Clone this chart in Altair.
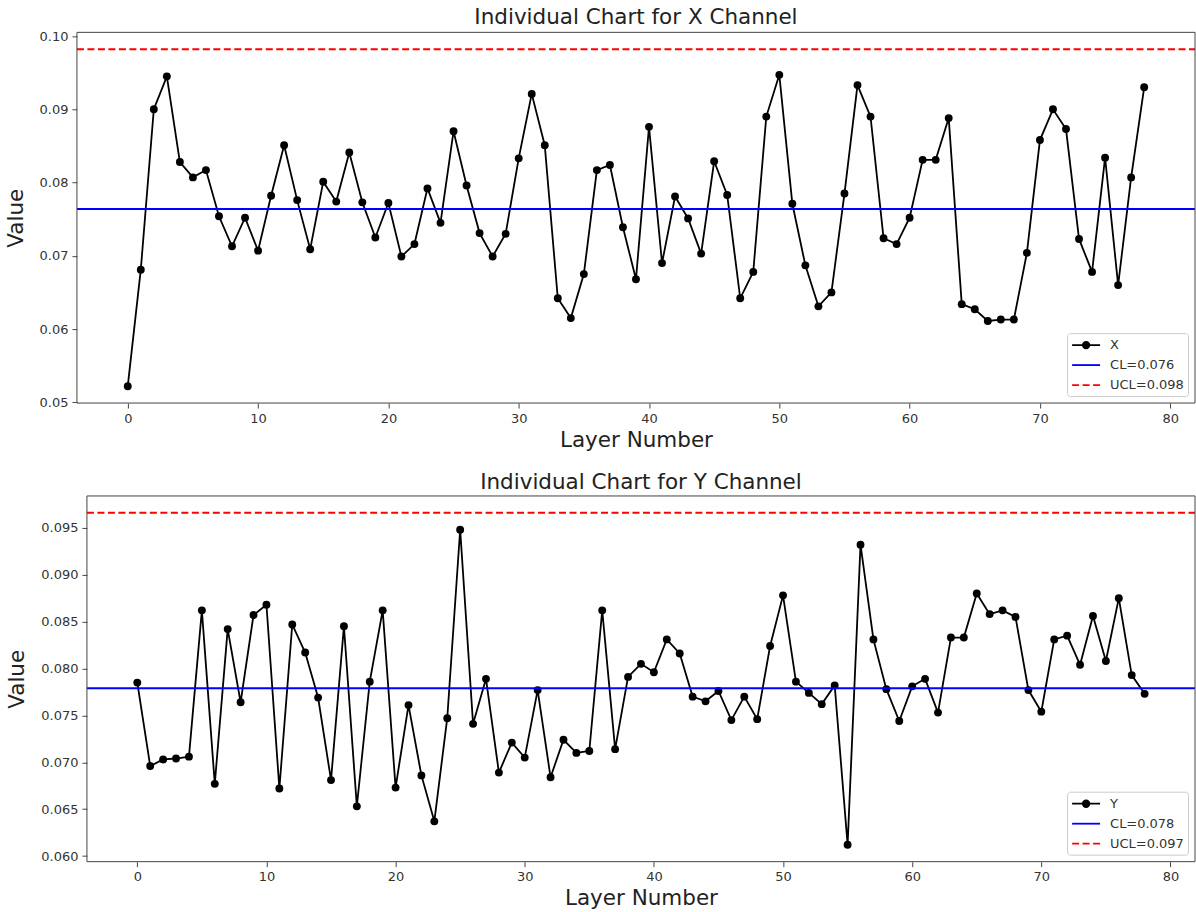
import altair as alt
import pandas as pd

# ---------------- data ----------------
x_values = [0.0522, 0.0681, 0.0900, 0.0945, 0.0828, 0.0807, 0.0817, 0.0754, 0.0713, 0.0752,
            0.0707, 0.0782, 0.0851, 0.0776, 0.0709, 0.0801, 0.0774, 0.0841, 0.0773, 0.0725,
            0.0772, 0.0699, 0.0716, 0.0792, 0.0745, 0.0870, 0.0796, 0.0731, 0.0699, 0.0730,
            0.0833, 0.0921, 0.0851, 0.0642, 0.0615, 0.0675, 0.0817, 0.0824, 0.0739, 0.0668,
            0.0876, 0.0690, 0.0781, 0.0751, 0.0703, 0.0829, 0.0783, 0.0642, 0.0678, 0.0890,
            0.0947, 0.0771, 0.0687, 0.0631, 0.0650, 0.0785, 0.0933, 0.0890, 0.0724, 0.0716,
            0.0752, 0.0831, 0.0831, 0.0888, 0.0634, 0.0627, 0.0611, 0.0613, 0.0613, 0.0704,
            0.0858, 0.0900, 0.0873, 0.0723, 0.0678, 0.0834, 0.0660, 0.0807, 0.0930]
y_values = [0.0785, 0.0696, 0.0703, 0.0704, 0.0706, 0.0862, 0.0677, 0.0842, 0.0764, 0.0857,
            0.0868, 0.0672, 0.0847, 0.0817, 0.0769, 0.0681, 0.0845, 0.0653, 0.0786, 0.0862,
            0.0673, 0.0761, 0.0686, 0.0637, 0.0747, 0.0948, 0.0741, 0.0789, 0.0689, 0.0721,
            0.0705, 0.0777, 0.0684, 0.0724, 0.0710, 0.0712, 0.0862, 0.0714, 0.0791, 0.0805,
            0.0796, 0.0831, 0.0816, 0.0770, 0.0765, 0.0776, 0.0745, 0.0770, 0.0746, 0.0824,
            0.0878, 0.0786, 0.0774, 0.0762, 0.0782, 0.0612, 0.0932, 0.0831, 0.0778, 0.0744,
            0.0781, 0.0789, 0.0753, 0.0833, 0.0833, 0.0880, 0.0858, 0.0862, 0.0855, 0.0777,
            0.0754, 0.0831, 0.0835, 0.0804, 0.0856, 0.0808, 0.0875, 0.0793, 0.0773]
x_cl, x_ucl = 0.0764, 0.0982
y_cl, y_ucl = 0.0779, 0.0966
x_legend = ["X", "CL=0.076", "UCL=0.098"]
y_legend = ["Y", "CL=0.078", "UCL=0.097"]
x_ticks = [0, 10, 20, 30, 40, 50, 60, 70, 80]
x_yticks = [0.05, 0.06, 0.07, 0.08, 0.09, 0.10]
y_yticks = [0.060, 0.065, 0.070, 0.075, 0.080, 0.085, 0.090, 0.095]

FONT = "DejaVu Sans"
FRAME = "#444444"

# legend symbols (custom paths, unit = sqrt(symbolSize)/2 px)
SYM_POINT_LINE = ("M-2,0H2"
                  "M0.47,0A0.47,0.47,0,1,1,-0.47,0A0.47,0.47,0,1,1,0.47,0"
                  "M0.27,0A0.27,0.27,0,1,1,-0.27,0A0.27,0.27,0,1,1,0.27,0"
                  "M0.07,0A0.07,0.07,0,1,1,-0.07,0A0.07,0.07,0,1,1,0.07,0")
SYM_LINE = "M-2,0H2"
SYM_DASH = "M-2,0H-1M-0.5,0H0.5M1,0H2"


def control_chart(values, cl, ucl, labels, title, yticks, yfmt, ydomain,
                  width, height, shift):
    """shift: pixels by which the plot frame starts right of the panel origin."""
    df = pd.DataFrame({"layer": list(range(len(values))), "value": values})
    x = alt.X("layer:Q",
              scale=alt.Scale(domain=[-3.9, 81.9], nice=False, zero=False,
                              range=[shift, width]),
              axis=alt.Axis(values=x_ticks, format="d", title="Layer Number",
                            titleX=(shift + width) / 2))
    y = alt.Y("value:Q", scale=alt.Scale(domain=ydomain, nice=False, zero=False),
              axis=alt.Axis(values=yticks, format=yfmt, title="Value", offset=-shift))
    base = alt.Chart(df)
    line = base.mark_line(color="black", strokeWidth=1.8).encode(x=x, y=y)
    pts = base.mark_point(filled=True, color="black", size=62, opacity=1).encode(x=x, y=y)
    cl_rule = alt.Chart(pd.DataFrame({"v": [cl]})).mark_rule(
        color="#0000ff", strokeWidth=2).encode(
        y=alt.Y("v:Q"), x=alt.value(shift), x2=alt.value(width))
    ucl_rule = alt.Chart(pd.DataFrame({"v": [ucl]})).mark_rule(
        color="#ff0000", strokeWidth=2, strokeDash=[7, 3.5]).encode(
        y=alt.Y("v:Q"), x=alt.value(shift), x2=alt.value(width))
    frame = alt.Chart(pd.DataFrame({"f": [0]})).mark_rect(
        fillOpacity=0, stroke=FRAME, strokeWidth=1).encode(
        x=alt.value(shift), x2=alt.value(width), y=alt.value(0), y2=alt.value(height))
    leg_df = pd.DataFrame({"series": labels})
    legend = alt.Chart(leg_df).transform_filter("false").mark_point(
        filled=False, strokeWidth=1.8, opacity=1).encode(
        color=alt.Color("series:N", sort=labels,
                        scale=alt.Scale(domain=labels, range=["black", "#0000ff", "#ff0000"]),
                        legend=alt.Legend(title=None, orient="bottom-right", offset=7,
                                          padding=4, strokeColor="#cccccc", fillColor="white",
                                          cornerRadius=3, labelFont=FONT, labelFontSize=13,
                                          labelColor="#333333", symbolSize=196,
                                          symbolStrokeWidth=1.8, symbolOffset=7,
                                          symbolOpacity=1,
                                          labelOffset=16, rowPadding=5)),
        shape=alt.Shape("series:N", sort=labels,
                        scale=alt.Scale(domain=labels,
                                        range=[SYM_POINT_LINE, SYM_LINE, SYM_DASH]),
                        legend=alt.Legend(title=None, orient="bottom-right")),
    )
    layered = alt.layer(line, pts, cl_rule, ucl_rule, frame, legend).properties(
        width=width, height=height,
        title=alt.TitleParams(text=title, font=FONT, fontSize=21.5, fontWeight="normal",
                              color="#222222", offset=2, anchor="middle", dx=shift / 2),
    )
    return layered


top = control_chart(x_values, x_cl, x_ucl, x_legend, "Individual Chart for X Channel",
                    x_yticks, ".2f", [0.0499, 0.1005], 1119, 371, 0)
bottom = control_chart(y_values, y_cl, y_ucl, y_legend, "Individual Chart for Y Channel",
                       y_yticks, ".3f", [0.0594, 0.0984], 1119, 366, 10)

chart = alt.vconcat(top, bottom, spacing=21).resolve_scale(
    color="independent", shape="independent"
).resolve_legend(
    color="independent", shape="independent"
).properties(
    padding={"left": 5, "top": 6, "right": 0, "bottom": 0},
    background="white",
).configure_view(
    stroke="transparent", strokeWidth=0
).configure_axis(
    domain=False, grid=False, ticks=True, tickSize=5, tickColor=FRAME, tickWidth=1,
    labelFont=FONT, labelFontSize=13, labelColor="#333333", labelPadding=4,
    titleFont=FONT, titleFontSize=21.5, titleFontWeight="normal", titleColor="#222222",
).configure_axisY(titlePadding=12).configure_axisX(titlePadding=4)

chart.save("out.html", embed_options={"renderer": "svg", "actions": False})
